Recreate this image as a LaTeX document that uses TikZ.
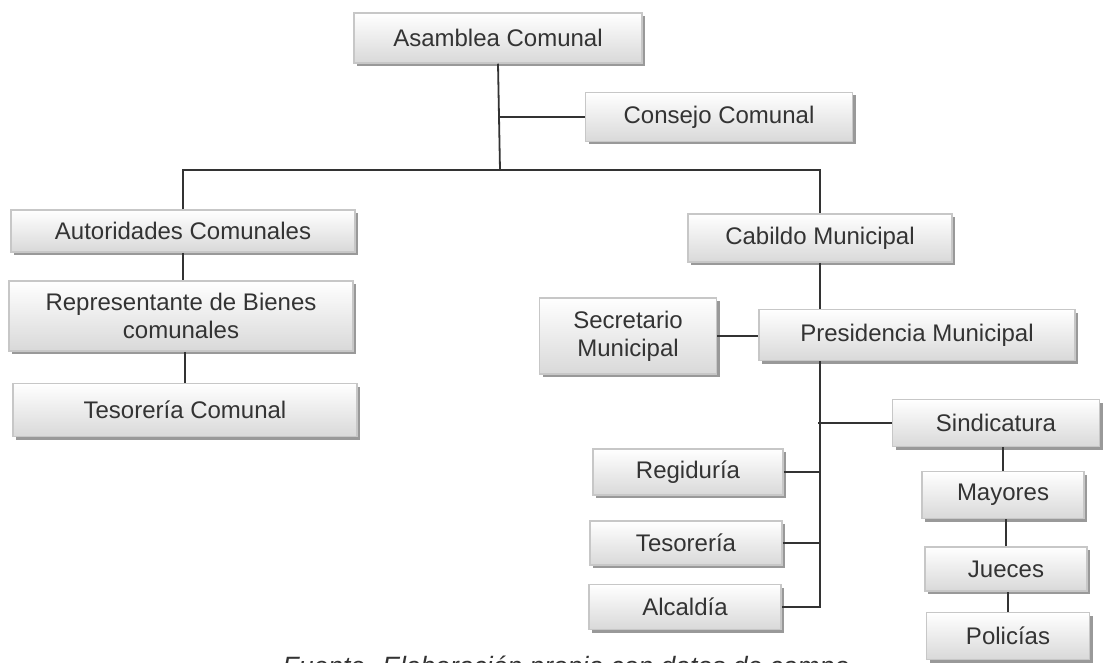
\documentclass[tikz,border=0pt]{standalone}
\usepackage{fontspec}
\setmainfont{Liberation Sans}
\usetikzlibrary{shadows}

\begin{document}
\begin{tikzpicture}[x=1pt,y=-1pt,
font=\fontsize{24}{28}\selectfont,
every node/.style={text=black!80}]
\tikzstyle{caja} = [rectangle, draw=black!22, line width=1.5pt, top color=white, bottom color=black!15, inner sep=0pt, align=center, drop shadow={shadow xshift=3pt, shadow yshift=-3pt, fill=black!40, opacity=1}]
\tikzstyle{linea} = [draw=black!80, line width=1.8pt]
\useasboundingbox (0,0) rectangle (1107,663);

\node[caja, minimum width=288pt, minimum height=50pt] (asm) at (498,38) {Asamblea Comunal};
\node[caja, minimum width=267pt, minimum height=49pt] (cons) at (719,117) {Consejo Comunal};
\node[caja, minimum width=344pt, minimum height=42pt] (aut) at (183,231) {Autoridades Comunales};
\node[caja, minimum width=344pt, minimum height=70pt] (rep) at (181,316) {Representante de Bienes\\comunales};
\node[caja, minimum width=344pt, minimum height=53pt] (tcom) at (185,410) {Tesorería Comunal};
\node[caja, minimum width=264pt, minimum height=48pt] (cab) at (820,238) {Cabildo Municipal};
\node[caja, minimum width=316pt, minimum height=51pt] (pres) at (917,335) {Presidencia Municipal};
\node[caja, minimum width=177pt, minimum height=76pt] (sec) at (628,336) {Secretario\\Municipal};
\node[caja, minimum width=207pt, minimum height=47pt] (sind) at (996,423) {Sindicatura};
\node[caja, minimum width=190pt, minimum height=46pt] (reg) at (688,472) {Regiduría};
\node[caja, minimum width=192pt, minimum height=44pt] (tes) at (686,543) {Tesorería};
\node[caja, minimum width=192pt, minimum height=45pt] (alc) at (685,607) {Alcaldía};
\node[caja, minimum width=162pt, minimum height=47pt] (may) at (1003,495) {Mayores};
\node[caja, minimum width=162pt, minimum height=44pt] (jue) at (1006,569) {Jueces};
\node[caja, minimum width=163pt, minimum height=47pt] (pol) at (1008,636) {Policías};

\coordinate (split) at (500,170);
\draw[linea] (asm.south) -- (split);
\draw[linea] (asm.south |- cons.west) -- (cons.west);
\draw[linea] (aut.north) |- (split) -| (cab.north);
\draw[linea] (aut.south) -- (aut.south |- rep.north);
\draw[linea] (tcom.north) -- (tcom.north |- rep.south);
\draw[linea] (cab.south) -- (cab.south |- pres.north);
\draw[linea] (sec.east) -- (sec.east -| pres.west);

% Presidencia branches:
\draw[linea] (cab.south |- pres.south) -- (cab.south |- alc.east) -- (alc.east);
\draw[linea] (reg.east) -- (reg.east -| cab.south);
\draw[linea] (tes.east) -- (tes.east -| cab.south);
\draw[linea] (sind.west) -- ([xshift=-2pt]sind.west -| cab.south);
\draw[linea] (may.north) -- (may.north |- sind.south);
\draw[linea] (jue.north) -- (jue.north |- may.south);
\draw[linea] (pol.north) -- (pol.north |- jue.south);

\node[font=\fontsize{26.5}{30}\selectfont\itshape, anchor=base] (fuente) at (566,675) {Fuente. Elaboración propia con datos de campo};

\end{tikzpicture}
\end{document}
